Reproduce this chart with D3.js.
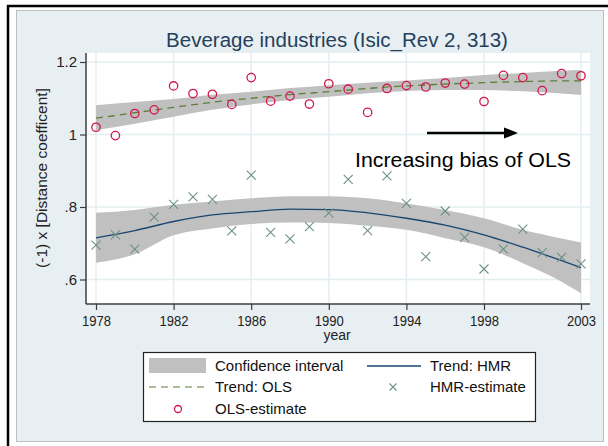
<!DOCTYPE html>
<html>
<head>
<meta charset="utf-8">
<script src="https://cdn.jsdelivr.net/npm/d3@7"></script>
<style>
  body { margin: 0; background: #fff; }
  svg { display: block; font-family: "Liberation Sans", Arial, sans-serif; }
</style>
</head>
<body>
<svg id="svg" width="608" height="446"></svg>
<script>
var years = d3.range(1978, 2004);

// point estimates, one per year
var olsEst = [1.020, 0.997, 1.058, 1.068, 1.134, 1.113, 1.111, 1.083, 1.157, 1.092, 1.106, 1.084, 1.140,
              1.125, 1.061, 1.127, 1.135, 1.131, 1.142, 1.139, 1.091, 1.163, 1.157, 1.121, 1.168, 1.162];
var hmrEst = [0.695, 0.723, 0.684, 0.772, 0.807, 0.828, 0.821, 0.734, 0.888, 0.730, 0.712, 0.746, 0.784,
              0.876, 0.735, 0.886, 0.810, 0.663, 0.789, 0.716, 0.629, 0.684, 0.739, 0.674, 0.661, 0.643];

// trends and bands, read every two years
var trendYears = [1978, 1980, 1982, 1984, 1986, 1988, 1990, 1992, 1994, 1996, 1998, 2000, 2002, 2003];
var olsTrend = [1.045, 1.060, 1.075, 1.089, 1.100, 1.110, 1.118, 1.127, 1.134, 1.139, 1.143, 1.146, 1.148, 1.148];
var olsLo    = [1.012, 1.030, 1.049, 1.068, 1.083, 1.095, 1.104, 1.114, 1.120, 1.123, 1.123, 1.119, 1.113, 1.109];
var olsHi    = [1.081, 1.090, 1.098, 1.110, 1.118, 1.128, 1.136, 1.143, 1.149, 1.156, 1.164, 1.170, 1.176, 1.178];
var hmrTrend = [0.715, 0.735, 0.760, 0.778, 0.787, 0.794, 0.793, 0.784, 0.769, 0.750, 0.723, 0.689, 0.652, 0.633];
var hmrLo    = [0.646, 0.670, 0.722, 0.741, 0.753, 0.757, 0.756, 0.748, 0.737, 0.714, 0.689, 0.645, 0.594, 0.562];
var hmrHi    = [0.784, 0.792, 0.806, 0.815, 0.824, 0.830, 0.830, 0.824, 0.810, 0.792, 0.769, 0.737, 0.713, 0.702];

var xTicks = [1978, 1982, 1986, 1990, 1994, 1998, 2003];
var yTicks = [0.6, 0.8, 1.0, 1.2];

var svg = d3.select('svg');

// outer frame + panel
svg.append('rect').attr('x', 16.5).attr('y', 10.5).attr('width', 587).attr('height', 431)
    .attr('fill', '#e8eff2').attr('stroke', '#b9bfc2');
svg.append('line').attr('x1', 7).attr('x2', 608).attr('y1', 6).attr('y2', 6)
    .attr('stroke', '#000').attr('stroke-width', 2.5);
svg.append('line').attr('x1', 8).attr('x2', 8).attr('y1', 5).attr('y2', 446)
    .attr('stroke', '#000').attr('stroke-width', 2.5);

// plot region
svg.append('rect').attr('x', 86).attr('y', 53).attr('width', 504).attr('height', 251).attr('fill', '#fff');

var x = d3.scaleLinear().domain([1978, 2003]).range([96, 581]);
var y = d3.scaleLinear().domain([0.6, 1.2]).range([279.5, 62]);

// grid
svg.append('g').selectAll('line').data(xTicks).enter().append('line')
    .attr('x1', function(d){ return x(d); }).attr('x2', function(d){ return x(d); })
    .attr('y1', 53).attr('y2', 304)
    .attr('stroke', '#e4eef1').attr('stroke-width', 1.5);
svg.append('g').selectAll('line').data(yTicks).enter().append('line')
    .attr('x1', 86).attr('x2', 590)
    .attr('y1', function(d){ return y(d); }).attr('y2', function(d){ return y(d); })
    .attr('stroke', '#e4eef1').attr('stroke-width', 1.5);

// bands
var area = function(lo, hi) {
    return d3.area()
        .x(function(d, i){ return x(trendYears[i]); })
        .y0(function(d, i){ return y(lo[i]); })
        .y1(function(d, i){ return y(hi[i]); })
        .curve(d3.curveMonotoneX)(trendYears);
};
svg.append('path').attr('d', area(olsLo, olsHi)).attr('fill', '#c0c0c0');
svg.append('path').attr('d', area(hmrLo, hmrHi)).attr('fill', '#c0c0c0');

var line = function(vals) {
    return d3.line()
        .x(function(d, i){ return x(trendYears[i]); })
        .y(function(d, i){ return y(vals[i]); })
        .curve(d3.curveMonotoneX)(trendYears);
};
svg.append('path').attr('d', line(olsTrend)).attr('fill', 'none')
    .attr('stroke', '#5b7d35').attr('stroke-width', 1.3).attr('stroke-dasharray', '7,5');
svg.append('path').attr('d', line(hmrTrend)).attr('fill', 'none')
    .attr('stroke', '#1a476f').attr('stroke-width', 1.3);

// markers
svg.append('g').selectAll('circle').data(olsEst).enter().append('circle')
    .attr('cx', function(d, i){ return x(years[i]); })
    .attr('cy', function(d){ return y(d); })
    .attr('r', 4.2)
    .attr('fill', 'none').attr('stroke', '#d3174a').attr('stroke-width', 1.3);

var cross = function(g, cx, cy, s) {
    g.append('path')
        .attr('d', 'M' + (cx - s) + ',' + (cy - s) + 'L' + (cx + s) + ',' + (cy + s) +
                   'M' + (cx - s) + ',' + (cy + s) + 'L' + (cx + s) + ',' + (cy - s))
        .attr('stroke', '#6e9185').attr('stroke-width', 1.1).attr('fill', 'none');
};
var gx = svg.append('g');
hmrEst.forEach(function(d, i){ cross(gx, x(years[i]), y(d), 4.5); });

// axes
var xAxis = svg.append('g').attr('transform', 'translate(0,304)')
    .call(d3.axisBottom(x).tickValues(xTicks).tickFormat(d3.format('d')).tickSize(6).tickSizeOuter(0));
xAxis.select('.domain').attr('d', 'M86,0H590');
var yAxis = svg.append('g').attr('transform', 'translate(86,0)')
    .call(d3.axisLeft(y).tickValues(yTicks).tickSize(6).tickSizeOuter(0)
        .tickFormat(function(d){ return d === 1 ? '1' : d3.format('.1f')(d).replace(/^0/, ''); }));
yAxis.select('.domain').attr('d', 'M0,53V304');
svg.selectAll('.domain').attr('stroke', '#3c3c3c').attr('stroke-width', 1.5);
svg.selectAll('.tick line').attr('stroke', '#3c3c3c').attr('stroke-width', 1.2);
xAxis.selectAll('text').attr('font-size', 14).attr('fill', '#222').attr('dy', '0.9em')
    .attr('font-family', '"Liberation Sans", Arial, sans-serif').attr('textLength', 29).attr('lengthAdjust', 'spacingAndGlyphs');
yAxis.selectAll('text').attr('font-size', 15).attr('fill', '#222').attr('x', -9)
    .attr('font-family', '"Liberation Sans", Arial, sans-serif');

// titles
svg.append('text').attr('x', 337).attr('y', 47).attr('text-anchor', 'middle')
    .attr('font-size', 20.5).attr('fill', '#243f5c').text('Beverage industries (Isic_Rev 2, 313)');
svg.append('text').attr('x', 337).attr('y', 340).attr('text-anchor', 'middle')
    .attr('font-size', 14).attr('fill', '#222').text('year');
svg.append('text').attr('transform', 'translate(47,178) rotate(-90)').attr('text-anchor', 'middle')
    .attr('font-size', 15.5).attr('fill', '#222').text('(-1) x [Distance coefficent]');

// annotation
svg.append('line').attr('x1', 427).attr('x2', 506).attr('y1', 133).attr('y2', 133)
    .attr('stroke', '#000').attr('stroke-width', 2.5);
svg.append('path').attr('d', 'M504,127.5L518,133L504,138.5Z').attr('fill', '#000');
svg.append('text').attr('x', 355).attr('y', 167).attr('fill', '#000')
    .attr('textLength', 216).attr('lengthAdjust', 'spacingAndGlyphs')
    .attr('font-size', 20).text('Increasing bias of OLS');

// legend
var lg = svg.append('g');
lg.append('rect').attr('x', 143.5).attr('y', 352.5).attr('width', 392).attr('height', 69)
    .attr('fill', '#fff').attr('stroke', '#222').attr('stroke-width', 1.2);
lg.append('rect').attr('x', 149).attr('y', 358).attr('width', 57).attr('height', 15).attr('fill', '#c0c0c0');
lg.append('line').attr('x1', 149).attr('x2', 206).attr('y1', 387).attr('y2', 387)
    .attr('stroke', '#5b7d35').attr('stroke-width', 1.2).attr('stroke-dasharray', '7,5');
lg.append('circle').attr('cx', 178).attr('cy', 409).attr('r', 3.5)
    .attr('fill', 'none').attr('stroke', '#d3174a').attr('stroke-width', 1.3);
lg.append('line').attr('x1', 367).attr('x2', 421).attr('y1', 366).attr('y2', 366)
    .attr('stroke', '#1a476f').attr('stroke-width', 1.3);
cross(lg, 393, 387, 3.5);

var legendLabels = ['Confidence interval', 'Trend: OLS', 'OLS-estimate', 'Trend: HMR', 'HMR-estimate'];
var legendPos = [[215, 366], [215, 387], [215, 409], [430, 366], [430, 387]];
lg.selectAll('text.lab').data(legendLabels).enter().append('text')
    .attr('x', function(d, i){ return legendPos[i][0]; })
    .attr('y', function(d, i){ return legendPos[i][1]; })
    .attr('dy', '0.35em').attr('font-size', 15).attr('fill', '#111')
    .text(function(d){ return d; });
</script>
</body>
</html>
